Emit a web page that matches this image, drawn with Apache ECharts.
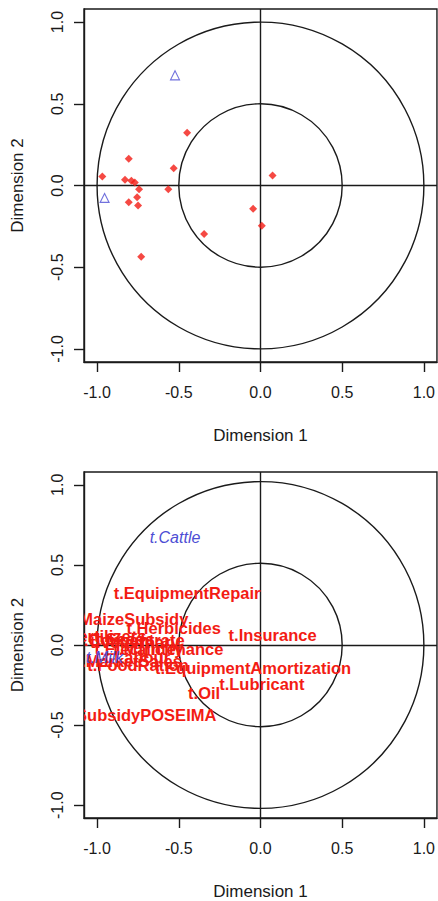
<!DOCTYPE html>
<html>
<head>
<meta charset="utf-8">
<script src="https://cdn.jsdelivr.net/npm/echarts@6/dist/echarts.min.js"></script>
<style>
html,body{margin:0;padding:0;background:#fff;}
#chart{width:438px;height:901px;}
</style>
</head>
<body>
<div id="chart"></div>
<script>
// ---- data ----
var tickValues = [-1.0, -0.5, 0.0, 0.5, 1.0];
var circleRadii = [0.5, 1.0];

// active variables (red)
var activeNames = ["t.EquipmentRepair", "t.MaizeSubsidy", "t.Herbicides", "t.Fertilizers", "t.Insurance",
  "t.Seeds", "t.Concentrate", "t.Veterinary", "t.Electricity", "t.Maintenance",
  "t.Labour", "t.MarketSales", "t.FoodRation", "t.EquipmentAmortization", "t.Lubricant",
  "t.Oil", "t.SubsidyPOSEIMA"];
var activeX = [-0.449, -0.806, -0.531, -0.968, 0.074,
  -0.829, -0.790, -0.769, -0.743, -0.564,
  -0.755, -0.806, -0.749, -0.045, 0.008,
  -0.345, -0.730];
var activeY = [0.323, 0.164, 0.106, 0.055, 0.061,
  0.035, 0.029, 0.018, -0.023, -0.023,
  -0.072, -0.102, -0.123, -0.143, -0.246,
  -0.297, -0.436];

// supplementary variables (blue)
var suppNames = ["t.Cattle", "t.Milk"];
var suppX = [-0.523, -0.954];
var suppY = [0.674, -0.076];

// ---- build ----
var axisMin = -1.08, axisMax = 1.08;
var ink = '#1a1a1a';
var red = '#f31c14';
var blue = '#4d4dd4';
var fontFam = '"Liberation Sans", Arial, sans-serif';

function pairs(xs, ys) { return xs.map(function (x, i) { return [x, ys[i]]; }); }

function xAxisDef(gi) {
  return {
    gridIndex: gi, type: 'value', min: axisMin, max: axisMax,
    name: 'Dimension 1', nameLocation: 'middle', nameGap: 65,
    nameTextStyle: { color: ink, fontSize: 17, fontFamily: fontFam },
    axisLine: { show: true, onZero: false, lineStyle: { color: ink, width: 1.4 } },
    axisTick: { show: true, inside: false, length: 10, customValues: tickValues, lineStyle: { color: ink, width: 1.4 } },
    axisLabel: { show: true, margin: 22, customValues: tickValues, color: ink, fontSize: 16, fontFamily: fontFam,
      formatter: function (v) { return v.toFixed(1); } },
    splitLine: { show: false }
  };
}
function yAxisDef(gi) {
  return {
    gridIndex: gi, type: 'value', min: axisMin, max: axisMax,
    name: 'Dimension 2', nameLocation: 'middle', nameGap: 58, nameRotate: 90,
    nameTextStyle: { color: ink, fontSize: 17, fontFamily: fontFam },
    axisLine: { show: true, onZero: false, lineStyle: { color: ink, width: 1.4 } },
    axisTick: { show: true, inside: false, length: 10, customValues: tickValues, lineStyle: { color: ink, width: 1.4 } },
    axisLabel: { show: true, rotate: 90, margin: 19, customValues: tickValues, color: ink, fontSize: 16, fontFamily: fontFam,
      formatter: function (v) { return v.toFixed(1); } },
    splitLine: { show: false }
  };
}

function circleSeries(gi) {
  return {
    type: 'custom', xAxisIndex: gi, yAxisIndex: gi, silent: true, z: 2,
    data: circleRadii.map(function (r) { return [r, 0]; }),
    renderItem: function (params, api) {
      var c = api.coord([0, 0]);
      var s = api.size([api.value(0), api.value(0)]);
      return { type: 'circle', shape: { cx: c[0], cy: c[1], r: s[0] },
        style: { fill: 'none', stroke: ink, lineWidth: 1.4 } };
    }
  };
}
function crossSeries(gi) {
  return {
    type: 'line', xAxisIndex: gi, yAxisIndex: gi, data: [], silent: true, z: 2,
    markLine: { silent: true, symbol: ['none', 'none'], animation: false,
      label: { show: false },
      lineStyle: { color: ink, width: 1.4, type: 'solid' },
      data: [{ xAxis: 0 }, { yAxis: 0 }] }
  };
}
function textSeries(gi, xs, ys, names, color, fontStyle) {
  return {
    type: 'custom', xAxisIndex: gi, yAxisIndex: gi, clip: true, silent: true, z: 5,
    data: pairs(xs, ys),
    renderItem: function (params, api) {
      var p = api.coord([api.value(0), api.value(1)]);
      return { type: 'text', x: p[0], y: p[1],
        style: { text: names[params.dataIndex], fill: color, font: fontStyle,
          align: 'center', verticalAlign: 'middle' } };
    }
  };
}

var option = {
  backgroundColor: '#ffffff',
  animation: false,
  grid: [
    { left: 84, top: 9, width: 353, height: 353, show: true, borderColor: ink, borderWidth: 1.4, backgroundColor: 'transparent' },
    { left: 84, top: 472, width: 353, height: 352, show: true, borderColor: ink, borderWidth: 1.4, backgroundColor: 'transparent' }
  ],
  xAxis: [xAxisDef(0), xAxisDef(1)],
  yAxis: [yAxisDef(0), yAxisDef(1)],
  series: [
    circleSeries(0), crossSeries(0),
    { type: 'scatter', xAxisIndex: 0, yAxisIndex: 0, z: 5, symbol: 'diamond', symbolSize: 8,
      itemStyle: { color: red }, data: pairs(activeX, activeY) },
    { type: 'scatter', xAxisIndex: 0, yAxisIndex: 0, z: 5, symbol: 'triangle', symbolSize: 9,
      itemStyle: { color: 'rgba(0,0,0,0)', borderColor: blue, borderWidth: 1.1 }, data: pairs(suppX, suppY) },
    circleSeries(1), crossSeries(1),
    textSeries(1, activeX, activeY, activeNames, red, 'bold 16.5px ' + fontFam),
    textSeries(1, suppX, suppY, suppNames, blue, 'italic 16px ' + fontFam)
  ]
};

var chart = echarts.init(document.getElementById('chart'), null, { renderer: 'svg' });
chart.setOption(option);
</script>
</body>
</html>
